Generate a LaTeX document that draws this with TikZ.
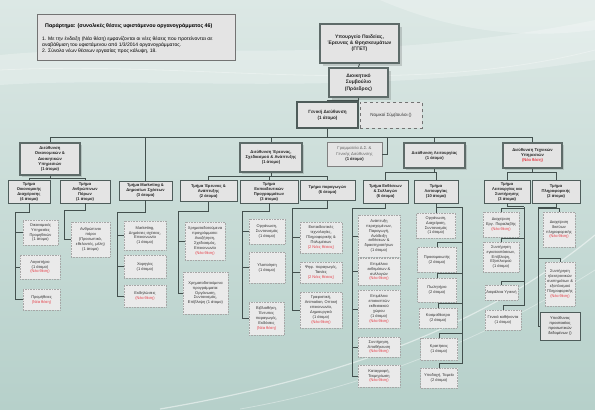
\documentclass[tikz,border=0pt]{standalone}
\usepackage{fontspec}
\setmainfont{Liberation Sans}
\usetikzlibrary{shadows,calc}
\definecolor{bgtop}{HTML}{DCE8E5}
\definecolor{bgbot}{HTML}{B6D0CA}
\definecolor{boxfill}{HTML}{E4E4E4}
\definecolor{lfill}{HTML}{EAEAEA}
\definecolor{edge}{HTML}{4E5C5A}
\definecolor{thickedge}{HTML}{5E6B69}
\definecolor{newred}{HTML}{E5404A}
\definecolor{linec}{HTML}{43504E}
\newcommand{\nt}{{\color{newred}(Νέα θέση)}}
\newcommand{\nnt}{{\color{newred}(2 Νέες θέσεις)}}
\begin{document}
\begin{tikzpicture}[x=1bp,y=-1bp,
  sz/.style 2 args={minimum width=#1bp,minimum height=#2bp},
  lbox/.style={draw=black!35, densely dotted, line width=0.6bp, fill=lfill, align=center, inner sep=0.5bp, text=black!80, font=\fontsize{4}{4.9}\selectfont},
  tmbox/.style={draw=edge, line width=0.9bp, fill=boxfill, align=center, inner sep=0.5bp, text=black!85, font=\bfseries\fontsize{4.1}{5}\selectfont},
  dirbox/.style={draw=thickedge, line width=1.8bp, fill=boxfill, align=center, inner sep=0.5bp, text=black!85, font=\bfseries\fontsize{4.2}{5.2}\selectfont, drop shadow={shadow xshift=1.5bp, shadow yshift=-1.5bp, fill=black, opacity=0.12}},
  topbox/.style={draw=thickedge, line width=2bp, fill=boxfill, align=center, inner sep=0.5bp, text=black!85, font=\bfseries\fontsize{5}{6.2}\selectfont, drop shadow={shadow xshift=2.5bp, shadow yshift=-2.5bp, fill=black, opacity=0.15}},
  conn/.style={draw=linec, line width=0.9bp},
]
\useasboundingbox (0,0) rectangle (595,409);
% background
\fill[top color=bgtop, bottom color=bgbot] (0,0) rectangle (595,409);
\fill[white, opacity=0.25] (0,55) .. controls (150,40) and (350,70) .. (595,20) -- (595,60) .. controls (350,100) and (150,75) .. (0,85) -- cycle;
\fill[white, opacity=0.25] (380,0) -- (595,0) -- (595,30) .. controls (520,40) and (450,30) .. (380,0) -- cycle;
\draw[white, opacity=0.5, line width=1.2bp] (160,409) .. controls (330,380) and (480,330) .. (595,235);
\draw[white, opacity=0.35, line width=0.8bp] (240,409) .. controls (380,385) and (500,330) .. (595,270);
\draw[white, opacity=0.3, line width=0.8bp] (0,70) .. controls (200,60) and (400,100) .. (595,50);

% note
\node[draw=black!55, line width=0.8bp, fill=boxfill, sz={198}{46}] (note) at (136,37) {};
\node[anchor=west, inner sep=0, font=\bfseries\fontsize{5.3}{6.3}\selectfont] (notet) at (45,26) {Παράρτημα: (συνολικές θέσεις υφιστάμενου οργανογράμματος 46)};
\node[anchor=west, inner sep=0, font=\fontsize{5}{6}\selectfont] (note1) at (42,39) {1. Με την ένδειξη (Νέα θέση) εμφανίζονται οι νέες θέσεις που προτείνονται σε};
\node[anchor=west, inner sep=0, font=\fontsize{5}{6}\selectfont] (note2) at (42,45) {αναβάθμιση του υφιστάμενου από 1/3/2014 οργανογράμματος.};
\node[anchor=west, inner sep=0, font=\fontsize{5}{6}\selectfont] (note3) at (42,51.5) {2. Σύνολο νέων θέσεων εργασίας προς κάλυψη, 18.};

% top
\node[topbox, sz={79}{39}] (ypet) at (359.5,43.5) {Υπουργείο Παιδείας,\\Έρευνας \& Θρησκευμάτων\\(ΓΓΕΤ)};
\node[topbox, sz={59}{29}] (ds) at (358.5,82.5) {Διοικητικό\\Συμβούλιο\\(Πρόεδρος)};
\node[tmbox, line width=1.2bp, sz={61}{26}, font=\bfseries\fontsize{4.6}{5.6}\selectfont] (gd) at (327.5,115) {Γενική Διεύθυνση\\(1 άτομο)};
\node[draw=black!55, dashed, line width=1bp, fill=boxfill, sz={62}{26}, inner sep=0.5bp, font=\fontsize{4.5}{5.5}\selectfont, text=black!80] (nomikoi) at (391,115) {Νομικοί Σύμβουλοι ()};

% level 2
\node[dirbox, sz={60}{32}] (oik) at (50,159) {Διεύθυνση\\Οικονομικών \&\\Διοικητικών\\Υπηρεσιών\\(1 άτομο)};
\node[tmbox, sz={53}{19}] (mkt) at (145.5,190.5) {Τμήμα Marketing \&\\Δημοσίων Σχέσεων\\(3 άτομα)};
\node[dirbox, sz={62}{29}] (ere) at (271,157.5) {Διεύθυνση Έρευνας,\\Σχεδιασμού \& Ανάπτυξης\\(1 άτομο)};
\node[draw=black!50, line width=0.9bp, fill=boxfill, sz={55}{24}, align=center, inner sep=0.5bp, text=black!60, font=\fontsize{4.2}{5.2}\selectfont] (gram) at (354.5,154) {Γραμματεία Δ.Σ. \&\\Γενικής Διεύθυνσης\\\textbf{\color{black!85}(1 άτομο)}};
\node[dirbox, sz={61}{25}] (leit) at (434.5,155.5) {Διεύθυνση Λειτουργίας\\(1 άτομο)};
\node[dirbox, sz={59}{25}] (tech) at (532.5,155.5) {Διεύθυνση Τεχνικών\\Υπηρεσιών\\\nt};

% level 3
\node[tmbox, sz={42}{23}] (toik) at (29,191.5) {Τμήμα\\Οικονομικής\\Διαχείρισης\\(4 άτομα)};
\node[tmbox, sz={50}{23}] (tanth) at (85,191.5) {Τμήμα\\Ανθρώπινων\\Πόρων\\(1 άτομο)};
\node[tmbox, sz={57}{21}] (tea) at (208.5,191) {Τμήμα Έρευνας \&\\Ανάπτυξης\\(2 άτομα)};
\node[tmbox, sz={58}{23}] (tekp) at (269,191.5) {Τμήμα\\Εκπαιδευτικών\\Προγραμμάτων\\(3 άτομα)};
\node[tmbox, sz={55}{20}] (tpar) at (327.5,190) {Τμήμα παραγωγών\\(6 άτομα)};
\node[tmbox, sz={45}{23}] (tekth) at (385.5,191.5) {Τμήμα Εκθέσεων\\\& Συλλογών\\(6 άτομα)};
\node[tmbox, sz={44}{23}] (tleit) at (436,191.5) {Τμήμα\\Λειτουργίας\\(10 άτομα)};
\node[tmbox, sz={46}{23}] (tlsyn) at (507,191.5) {Τμήμα\\Λειτουργίας και\\Συντήρησης\\(3 άτομα)};
\node[tmbox, sz={48}{23}] (tplir) at (556,191.5) {Τμήμα\\Πληροφορικής\\(2 άτομα)};

% level 4 - col A
\node[lbox, sz={35}{25}] (a1) at (40.5,232.5) {Οικονομικές\\Υπηρεσίες\\Προμηθειών\\(1 άτομο)};
\node[lbox, sz={40}{24}] (a2) at (40,267) {Λογιστήριο\\(1 άτομο)\\\nt};
\node[lbox, sz={37}{21}] (a3) at (41.5,299.5) {Προμήθειες\\\nt};
% col B
\node[lbox, sz={39}{35}] (b1) at (90.5,239.5) {Ανθρώπινοι\\πόροι\\(Προσωπικό,\\εθελοντές, μέλη)\\(1 άτομο)};
% col C
\node[lbox, sz={42}{29}] (c1) at (145,235.5) {Marketing,\\Δημόσιες σχέσεις,\\Επικοινωνία\\(1 άτομο)};
\node[lbox, sz={42}{23}] (c2) at (145,266.5) {Χορηγίες\\(1 άτομο)};
\node[lbox, sz={42}{22}] (c3) at (145,296) {Εκδηλώσεις\\\nt};
% col D
\node[lbox, sz={40}{38}] (d1) at (205,241) {Χρηματοδοτούμενα\\προγράμματα:\\Αναζήτηση,\\Σχεδιασμός,\\Επικοινωνία\\\nt};
\node[lbox, sz={45}{42}] (d2) at (205.5,293) {Χρηματοδοτούμενα\\προγράμματα:\\Οργάνωση,\\Συντονισμός,\\Επίβλεψη (1 άτομο)};
% col E
\node[lbox, sz={36}{25}] (e1) at (267,231.5) {Οργάνωση,\\Συντονισμός\\(1 άτομο)};
\node[lbox, sz={36}{31}] (e2) at (267,267.5) {Υλοποίηση\\(1 άτομο)};
\node[lbox, sz={35}{33}] (e3) at (266.5,318.5) {Βιβλιοθήκη,\\Έντυπες\\παραγωγές,\\Εκδόσεις\\\nt};
% col F
\node[lbox, sz={42}{31}] (f1) at (321,237.5) {Εκπαιδευτικές\\τεχνολογίες,\\Πληροφορικής \&\\Πολυμέσων\\\nnt};
\node[lbox, sz={42}{21}] (f2) at (321,272.5) {Ψηφ. παραγωγές,\\Ταινίες\\\nnt};
\node[lbox, sz={42}{36}] (f3) at (321,310) {Γραφιστική,\\Animation, Οπτική\\επικοινωνία,\\Δημιουργικό\\(1 άτομο)\\\nt};
% col G
\node[lbox, sz={42}{42}] (g1) at (379,236) {Ανάπτυξη\\περιεχομένων,\\Παραγωγή,\\Ανάδειξη\\εκθέσεων \&\\δραστηριοτήτων\\(1 άτομο)};
\node[lbox, sz={42}{27}] (g2) at (379,271.5) {Επιμέλεια\\εκθεμάτων \&\\συλλογών\\\nt};
\node[lbox, sz={42}{38}] (g3) at (379,309) {Επιμέλεια\\επισκεπτών\\εκθεσιακού\\χώρου\\(1 άτομο)\\\nt};
\node[lbox, sz={42}{20}] (g4) at (379,347) {Συντήρηση,\\Αποθήκευση\\\nt};
\node[lbox, sz={42}{22}] (g5) at (379,376) {Καταγραφή,\\Τεκμηρίωση\\\nt};
% col H
\node[lbox, sz={39}{25}] (h1) at (436,225.5) {Οργάνωση,\\Διαχείριση,\\Συντονισμός\\(1 άτομο)};
\node[lbox, sz={39}{25}] (h2) at (437,259.5) {Προσομοιωτής\\(2 άτομα)};
\node[lbox, sz={39}{24}] (h3) at (437,290) {Πωλητήριο\\(2 άτομα)};
\node[lbox, sz={38}{20}] (h4) at (438,318) {Κοσμοθέατρο\\(2 άτομα)};
\node[lbox, sz={37}{22}] (h5) at (439,349) {Κρατήσεις\\(1 άτομο)};
\node[lbox, sz={37}{20}] (h6) at (439,378) {Υποδοχή, Ταμείο\\(2 άτομα)};
% col I
\node[lbox, sz={36}{25}] (i1) at (501,224.5) {Διαχείριση\\Εργ. Παραλαβής\\\nt};
\node[lbox, sz={36}{30}] (i2) at (501,257) {Συντήρηση\\εγκαταστάσεων,\\Επίβλεψη,\\Εξοπλισμού\\(1 άτομο)};
\node[lbox, sz={33}{15}] (i3) at (501.5,292.5) {Ασφάλεια Υγιεινή};
\node[lbox, sz={36}{20}] (i4) at (503,320) {Γενικά καθήκοντα\\(1 άτομο)};
% col J
\node[lbox, sz={32}{35}] (j1) at (559,229.5) {Διαχείριση\\δικτύων\\πληροφορικής\\\nt};
\node[lbox, sz={30}{44}] (j2) at (560,284) {Συντήρηση\\ηλεκτρονικών\\συστημάτων \&\\εξοπλισμού\\Πληροφορικής\\\nt};
\node[draw=edge, line width=0.9bp, fill=boxfill, sz={40}{28}, align=center, inner sep=0.5bp, text=black!85, font=\fontsize{4}{4.9}\selectfont] (j3) at (560,326) {Υπεύθυνος\\προστασίας\\προσωπικών\\δεδομένων ()};

% ---------- connectors ----------
\draw[conn] (ypet.south) -- (ds.north);
\draw[conn] (ds.south) -- ++(0,2) -| (gd.north);
\coordinate (busL) at (50,137);
\coordinate (busR) at (532.5,137);
\coordinate (gramtap) at (387,137);
\draw[conn] (busL) -- (busR);
\draw[conn] (gd.south) -- (gd.south |- busL);
\foreach \n in {oik,mkt,ere,leit,tech} \draw[conn] (\n.north) -- (\n.north |- busL);
\draw[conn] (gramtap) |- (gram.east);
% sub-buses
\draw[conn] (oik.south) -- ++(0,2.5) coordinate (so) -| (toik.north);
\draw[conn] (so) -| (tanth.north);
\draw[conn] (ere.south) -- ++(0,4) coordinate (se) -| (tea.north);
\draw[conn] (se) -| (tekp.north);
\draw[conn] (se) -| (tpar.north);
\draw[conn] (leit.south) -- ++(0,4) coordinate (sl) -| (tekth.north);
\draw[conn] (sl) -| (tleit.north);
\draw[conn] (tech.south) -- ++(0,4) coordinate (st) -| (tlsyn.north);
\draw[conn] (st) -| (tplir.north);
% col rails with side stubs
\coordinate (rA) at (15,212);
\draw[conn] (toik.south) |- (rA) -- (rA |- a3.west);
\foreach \n in {a1,a2,a3} \draw[conn] (\n.west) -- (\n.west -| rA);
\coordinate (rB) at (64,210);
\draw[conn] (tanth.south) |- (rB) -- (rB |- b1.west) -- (b1.west);
\coordinate (rC) at (117,212);
\draw[conn] (mkt.south) |- (rC) -- (rC |- c3.west);
\foreach \n in {c1,c2,c3} \draw[conn] (\n.west) -- (\n.west -| rC);
\coordinate (rD) at (178,211);
\draw[conn] (tea.south) |- (rD) -- (rD |- d2.west);
\foreach \n in {d1,d2} \draw[conn] (\n.west) -- (\n.west -| rD);
\coordinate (rE) at (242,211);
\draw[conn] (tekp.south) |- (rE) -- (rE |- e3.west);
\foreach \n in {e1,e2,e3} \draw[conn] (\n.west) -- (\n.west -| rE);
\coordinate (rF) at (292,208);
\draw[conn] (tpar.south) |- (rF) -- (rF |- f3.west);
\foreach \n in {f1,f2,f3} \draw[conn] (\n.west) -- (\n.west -| rF);
\coordinate (rG) at (352,208);
\draw[conn] (tekth.south) |- (rG) -- (rG |- g5.west);
\foreach \n in {g1,g2,g3,g4,g5} \draw[conn] (\n.west) -- (\n.west -| rG);
% col H stepped
\coordinate (rH) at (462,207);
\draw[conn] (tleit.south) -- (h1.north);
\draw[conn] (tleit.south |- rH) -- (rH);
\draw[conn] (h6.north) -- ++(0,-4) coordinate (s6) -- (s6 -| rH) -- (rH);
\foreach \n in {h2,h3,h4,h5} \draw[conn] (\n.north) -- ++(0,-4) coordinate (s) -- (s -| rH);
% col I stepped
\coordinate (rI) at (524,206.5);
\draw[conn] (tlsyn.south) |- (rI);
\draw[conn] (i4.north) -- ++(0,-4) coordinate (s4) -- (s4 -| rI) -- (rI);
\foreach \n in {i1,i2,i3} \draw[conn] (\n.north) -- ++(0,-3) coordinate (s) -- (s -| rI);
% col J
\coordinate (rJ) at (538,207);
\draw[conn] (tplir.south) |- (rJ) -- (rJ |- j3.west) -- (j3.west);
\foreach \n in {j1,j2} \draw[conn] (\n.north) -- ++(0,-3) coordinate (s) -- (s -| rJ);
\end{tikzpicture}
\end{document}
